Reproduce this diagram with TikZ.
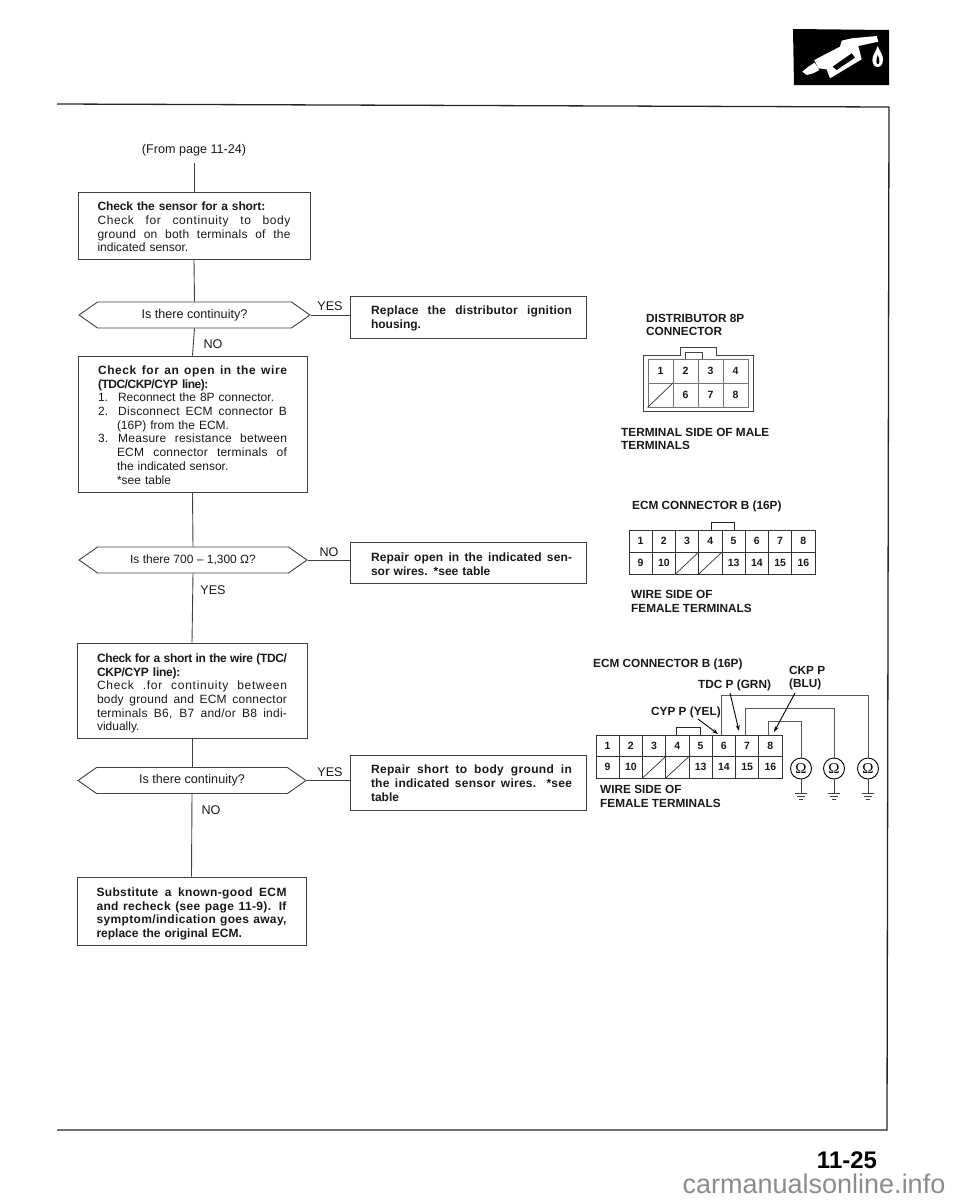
\documentclass[tikz,border=0pt]{standalone}
\usepackage{fontspec}
\setmainfont{Liberation Sans}
\newfontfamily\omfont{Liberation Serif}
\usetikzlibrary{shapes.symbols,arrows.meta,calc}
\newcommand\jl[2][0]{{\addfontfeature{LetterSpace=#1}\spaceskip=0pt\xspaceskip=0pt\hbox to \hsize{#2}}}
\newcommand\nl[2][0]{{\addfontfeature{LetterSpace=#1}\hbox{#2}}}
\newcommand\tb[2][0pt]{\vbox{\vskip #1\relax #2}}
\newcommand\tr[2][0pt]{\hbox{\hskip 6pt\vbox{\hsize=201pt\vskip #1\relax #2}}}
\newcommand\cellsgrid[5]{% prefix, x, y, cell w, cell h  (16 cells)
  \foreach \n/\t [count=\i from 0] in {1/1,2/2,3/3,4/4,5/5,6/6,7/7,8/8}{
    \node[cellbox,minimum width=#4,minimum height=#5] (#1\n) at ({#2+(\i+.5)*#4},{#3+.5*#5}) {\t};}
  \foreach \n/\t [count=\i from 0] in {9/9,10/10,11/,12/,13/13,14/14,15/15,16/16}{
    \node[cellbox,minimum width=#4,minimum height=#5] (#1\n) at ({#2+(\i+.5)*#4},{#3+1.5*#5}) {\t};}
  \draw[slash] (#111.south west) -- (#111.north east);
  \draw[slash] (#112.south west) -- (#112.north east);
}
\tikzset{
  x=1pt,y=-1pt,
  ln/.style={line width=.9pt,draw=black!75},
  box/.style={ln,inner sep=0pt,font=\fontsize{12}{13.7}\selectfont,text=black!90,align=left},
  hexa/.style={ln,shape=signal,signal to=east and west,signal pointer angle=70,inner sep=0pt,
    font=\fontsize{12.6}{13.5}\selectfont,text=black!90,minimum height=26},
  lab/.style={font=\fontsize{12.6}{13.5}\selectfont,text=black!90,inner sep=0pt},
  blab/.style={font=\bfseries\fontsize{11.8}{13.6}\selectfont,text=black!90,inner sep=0pt,align=left},
  cellbox/.style={draw=black!80,line width=.9pt,inner sep=0pt,font=\bfseries\fontsize{10.5}{11}\selectfont,text=black!90},
  slash/.style={line width=.7pt,draw=black!80},
  wire/.style={line width=.8pt,draw=black!65},
  arr/.style={line width=.9pt,draw=black,-{Stealth[length=6pt,width=4pt]}},
  ohm/.style={circle,draw=black,line width=.9pt,inner sep=0pt,minimum size=21,font=\omfont\fontsize{15}{15}\selectfont},
}
\begin{document}
\begin{tikzpicture}
\useasboundingbox (0,0) rectangle (960,1200);
\fill[white] (0,0) rectangle (960,1200);
% frame
\coordinate (f1) at (57,104); \coordinate (f2) at (889,107); \coordinate (f3) at (887,1130); \coordinate (f4) at (57,1130);
\draw[line width=1.3pt,black!85] (f1) -- (f2) -- (f3) -- (f4);
% icon
\fill[black] (793,29) -- (889,30) -- (889,85) -- (794,85) -- cycle;
\begin{scope}[shift={(780,20)},x=.3333pt,y=-.3333pt]
\fill[white] (67,155) -- (85,140) -- (104,128) -- (118,150) -- (100,160) -- (80,165) -- cycle;
\fill[white] (103,120) -- (180,80) -- (185,62) -- (215,55) -- (290,48) -- (295,65) -- (235,78) -- (245,118) -- (150,175) -- (140,148) -- (115,145) -- cycle;
\fill[black] (158,140) -- (215,100) -- (225,113) -- (170,150) -- cycle;
\fill[white] (293,78) .. controls (300,95) and (310,105) .. (309,120) .. controls (308,148) and (278,148) .. (277,120) .. controls (277,105) and (288,95) .. (293,78) -- cycle;
\fill[black] (293,105) .. controls (297,112) and (299,120) .. (298,126) .. controls (296,136) and (290,134) .. (289,125) .. controls (289,118) and (291,112) .. (293,105) -- cycle;
\end{scope}
% flow
\node[lab] (from) at (194,150) {(From page 11-24)};
\coordinate (start) at (194,163);
\node[box,minimum width=232,minimum height=67,text width=193] (b1) at (194,225.5) {\tb[3pt]{%
\nl[-1]{\bfseries Check the sensor for a short:}\jl[5]{Check for continuity to body}\jl[2]{ground on both terminals of the}\nl{indicated sensor.}}};
\node[hexa,minimum width=231] (d1) at (194.5,315) {Is there continuity?};
\node[box,minimum width=236,minimum height=42,text width=207] (r1) at (468.5,317) {\tr[3pt]{%
\jl[2]{\bfseries Replace the distributor ignition}\nl{\bfseries housing.}}};
\node[box,minimum width=229,minimum height=136,text width=189] (b2) at (192.5,424) {\tb[2pt]{%
\jl[5]{\bfseries Check for an open in the wire}\nl[-4]{\bfseries (TDC/CKP/CYP line):}\nl{1.\hskip 10pt Reconnect the 8P connector.}%
\jl[2]{2.\hskip 10pt Disconnect ECM connector B}\nl{\hskip 19pt (16P) from the ECM.}\jl[2]{3.\hskip 10pt Measure resistance between}%
\jl[2]{\hskip 19pt ECM connector terminals of}\nl{\hskip 19pt the indicated sensor.}\nl{\hskip 19pt *see table}}};
\node[hexa,minimum width=228,font=\fontsize{12}{13.5}\selectfont] (d2) at (193,560) {Is there 700 -- 1,300 Ω?};
\node[box,minimum width=236,minimum height=41,text width=207] (r2) at (468.5,562.5) {\tr[4pt]{%
\jl[1]{\bfseries Repair open in the indicated sen-}\nl{\bfseries sor wires. *see table}}};
\node[box,minimum width=230,minimum height=95,text width=190] (b3) at (192,690.5) {\tb[6pt]{%
\jl[-3]{\bfseries Check for a short in the wire (TDC/}\nl[-2]{\bfseries CKP/CYP line):}\jl[6]{Check .for continuity between}%
\jl[2]{body ground and ECM connector}\jl[2]{terminals B6, B7 and/or B8 indi-}\nl{vidually.}}};
\node[hexa,minimum width=228] (d3) at (192,780.5) {Is there continuity?};
\node[box,minimum width=236,minimum height=55,text width=207] (r3) at (468.5,782.5) {\tr[1pt]{%
\jl[3]{\bfseries Repair short to body ground in}\jl[2]{\bfseries the indicated sensor wires. *see}\nl{\bfseries table}}};
\node[box,minimum width=229,minimum height=68,text width=190] (b4) at (191.5,911) {\tb[6pt]{%
\jl[3]{\bfseries Substitute a known-good ECM}\jl[3]{\bfseries and recheck (see page 11-9). If}\jl[3]{\bfseries symptom/indication goes away,}\nl{\bfseries replace the original ECM.}}};
\draw[ln] (start) -- (b1.north);
\draw[ln] (b1.south) -- (d1.north);
\draw[ln] (d1.south) -- (b2.north);
\draw[ln] (b2.south) -- (d2.north);
\draw[ln] (d2.south) -- (b3.north);
\draw[ln] (b3.south) -- (d3.north);
\draw[ln] (d3.south) -- (b4.north);
\draw[ln] (d1.east) -- (r1.west |- d1.east);
\draw[ln] (d2.east) -- (r2.west |- d2.east);
\draw[ln] (d3.east) -- (r3.west |- d3.east);
\node[lab] (y1) at (330,306) {YES};
\node[lab] (n1) at (213,344) {NO};
\node[lab] (n2) at (329,552) {NO};
\node[lab] (y2) at (213,590) {YES};
\node[lab] (y3) at (330,772) {YES};
\node[lab] (n3) at (211,810) {NO};
% distributor connector
\node[blab,anchor=west] (t1) at (646,325) {DISTRIBUTOR 8P\\CONNECTOR};
\draw[line width=.9pt,black!75] (643,411) -- (643,355) -- (680,355) -- (680,347) -- (716,347) -- (716,355) -- (753,355) -- (753,411) -- cycle;
\draw[line width=.8pt,black!75] (685,359) -- (685,352) -- (702,352) -- (702,359);
\foreach \n/\t/\cx/\cy in {1/1/660.5/371,2/2/685.5/371,3/3/710.5/371,4/4/735.5/371,5//660.5/395,6/6/685.5/395,7/7/710.5/395,8/8/735.5/395}{
  \node[cellbox,draw=black!55,minimum width=25,minimum height=24] (p\n) at (\cx,\cy) {\t};}
\draw[slash] (p5.south west) -- (p5.north east);
\node[blab,anchor=west] (t2) at (621,439) {TERMINAL SIDE OF MALE\\TERMINALS};
% ECM 1
\node[blab,anchor=west] (t3) at (632,506) {ECM CONNECTOR B (16P)};
\draw[line width=.9pt,black!85] (711,530) -- (711,522) -- (734,522) -- (734,530);
\cellsgrid{a}{629}{530}{23.25}{22}
\node[blab,anchor=west] (t4) at (631,601.5) {WIRE SIDE OF\\FEMALE TERMINALS};
% ECM 2
\node[blab,anchor=west] (t5) at (593,664) {ECM CONNECTOR B (16P)};
\draw[line width=.9pt,black!85] (676,735) -- (676,727) -- (700,727) -- (700,735);
\cellsgrid{e}{596}{735}{23.25}{21.5}
\node[blab,anchor=west] (t6) at (600,796.5) {WIRE SIDE OF\\FEMALE TERMINALS};
\node[blab,anchor=west] (tdc) at (698,685) {TDC P (GRN)};
\node[blab,anchor=west] (ckp) at (789,678) {CKP P\\(BLU)};
\node[blab,anchor=west] (cyp) at (651,712) {CYP P (YEL)};
\node[ohm] (o1) at (801,768.5) {Ω};
\node[ohm] (o2) at (834,768.5) {Ω};
\node[ohm] (o3) at (868,768.5) {Ω};
\draw[wire] ([xshift=-2pt]e8.north) -- ++(0,-13) -| (o1.north);
\draw[wire] ([xshift=-2pt]e7.north) -- ++(0,-26) -| (o2.north);
\draw[wire] ([xshift=-2pt]e6.north) -- ++(0,-39) -| (o3.north);
\coordinate (ta) at (730,693); \coordinate (tb) at (739,731);
\coordinate (ca) at (795,693); \coordinate (cb) at (774,732);
\coordinate (ya) at (698,719); \coordinate (yb) at (718,734);
\draw[arr] (ta) -- (tb);
\draw[arr] (ca) -- (cb);
\draw[arr] (ya) -- (yb);
\foreach \k in {1,2,3}{
  \coordinate (g\k) at ($(o\k.south)+(0,14)$);
  \draw[line width=.9pt,black!75] (o\k.south) -- (g\k);
  \draw[line width=.9pt,black!75] ($(g\k)+(-6,0)$) -- ($(g\k)+(6,0)$) ($(g\k)+(-4,3)$) -- ($(g\k)+(4,3)$) ($(g\k)+(-2,6)$) -- ($(g\k)+(2,6)$);
}
% footer
\node[font=\bfseries\fontsize{24}{24}\selectfont,inner sep=0pt] (pg) at (847,1160) {11-25};
\node[font=\fontsize{27}{27}\selectfont,text=black!45,inner sep=0pt] (wm) at (814,1184) {carmanualsonline.info};
\end{tikzpicture}
\end{document}
